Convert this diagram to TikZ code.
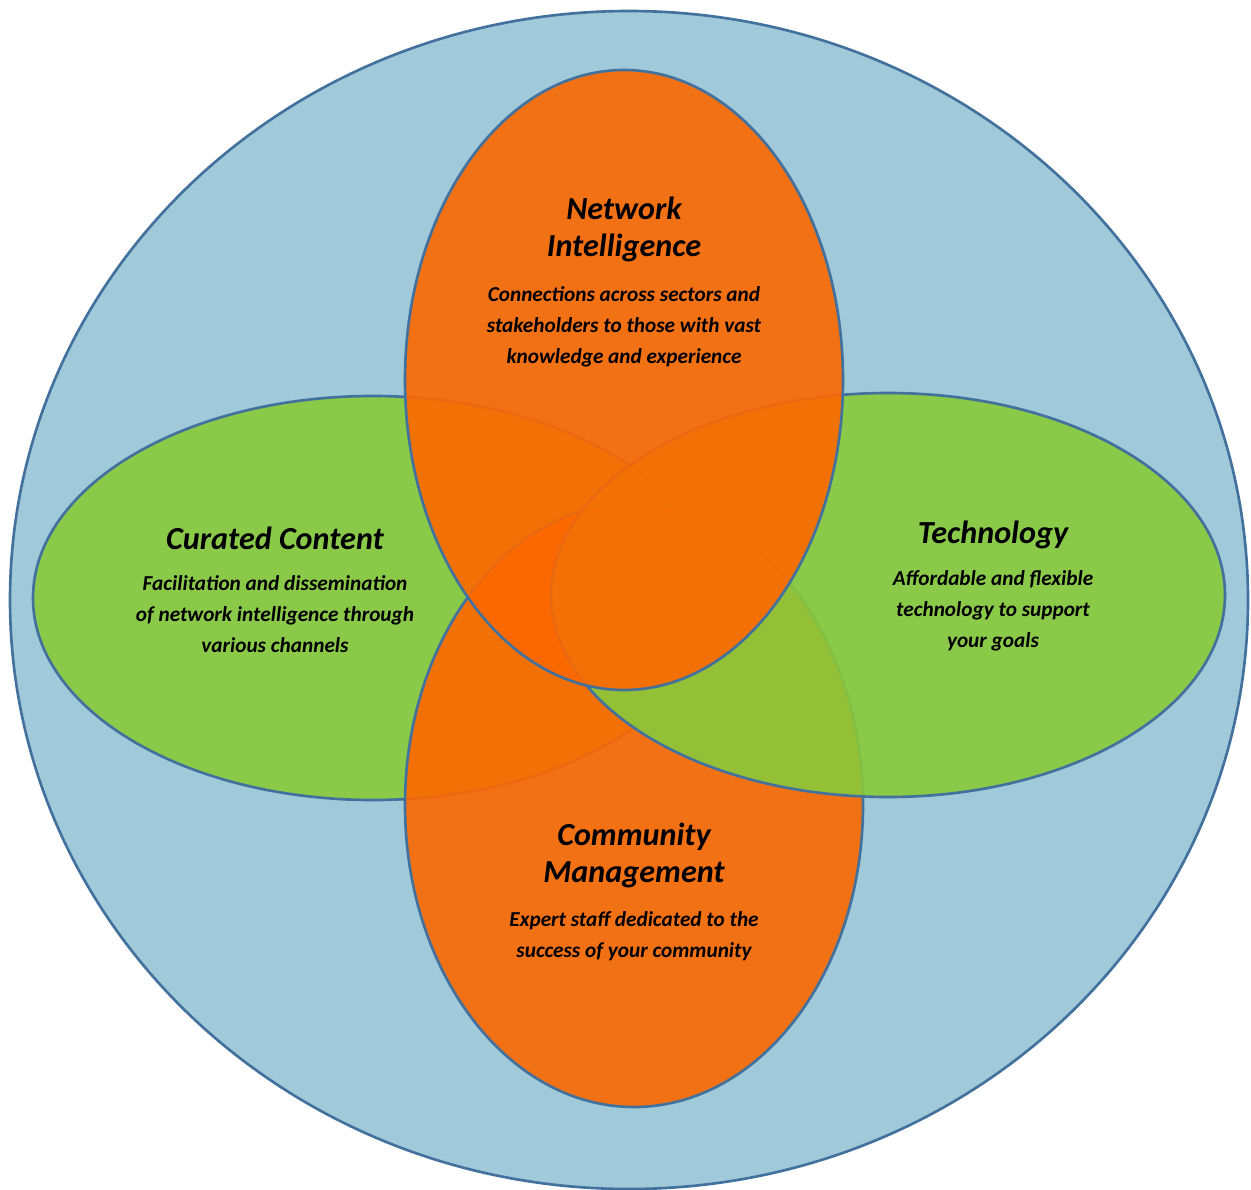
\documentclass[tikz,border=0pt]{standalone}
\usepackage{fontspec}
\setmainfont{Carlito}
\definecolor{skyblue}{HTML}{A0C9D9}
\definecolor{ringblue}{HTML}{41719C}
\definecolor{venngreen}{HTML}{89C93A}
\definecolor{vennorange}{HTML}{FD6800}

\begin{document}
\begin{tikzpicture}[
    x=0.02cm, y=-0.02cm,
    outline/.style={draw=ringblue, line width=1.5pt},
    petal/.style={outline, fill opacity=0.9},
    ttl/.style={font=\fontsize{18.3}{21}\selectfont\bfseries\itshape, align=center},
    txt/.style={font=\fontsize{12.1}{17.6}\selectfont\bfseries\itshape, align=center},
]

\useasboundingbox (0,0) rectangle (1251,1190);

% background ring
\draw[outline, fill=skyblue] (629,600) ellipse [x radius=619, y radius=589];

% the four areas, back to front
\draw[petal, fill=venngreen]  (373,598) ellipse [x radius=340, y radius=202];
\draw[petal, fill=vennorange] (634,805) ellipse [x radius=229, y radius=302];
\draw[petal, fill=venngreen]  (888,595) ellipse [x radius=337, y radius=202];
\draw[petal, fill=vennorange] (624,380) ellipse [x radius=219, y radius=310];

% Network Intelligence
\node[ttl] (netttl) at (624,229) {Network\\Intelligence};
\node[txt] (nettxt) at (624,327) {Connections across sectors and\\stakeholders to those with vast\\knowledge and experience};

% Curated Content
\node[ttl] (curttl) at (275,538) {Curated Content};
\node[txt] (curtxt) at (275,614) {Facilitation and dissemination\\of network intelligence through\\various channels};

% Technology
\node[ttl] (techttl) at (993,535) {Technology};
\node[txt] (techtxt) at (993,611) {Affordable and flexible\\technology to support\\your goals};

% Community Management
\node[ttl] (comttl) at (634,855) {Community\\Management};
\node[txt] (comtxt) at (634,936) {Expert staff dedicated to the\\success of your community};

\end{tikzpicture}
\end{document}
